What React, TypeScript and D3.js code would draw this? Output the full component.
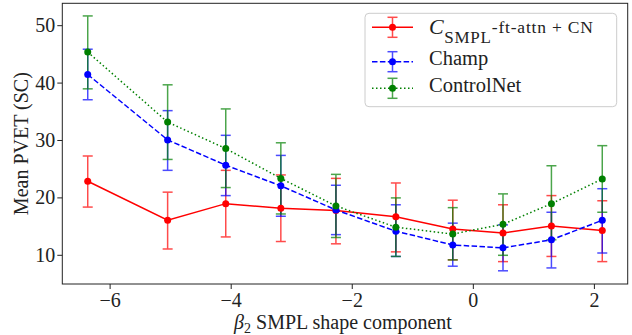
import * as d3 from 'd3';

const xs = [-6.37, -5.05, -4.09, -3.18, -2.27, -1.28, -0.34, 0.49, 1.29, 2.13];

const oursMean = [22.9, 16.1, 19.0, 18.2, 17.8, 16.7, 14.6, 13.9, 15.1, 14.3];
const oursLo = [18.4, 11.1, 13.2, 12.4, 12.0, 10.6, 9.2, 8.9, 9.8, 8.9];
const oursHi = [27.3, 21.0, 24.8, 24.0, 23.4, 22.6, 19.6, 18.8, 20.4, 19.5];

const champMean = [41.5, 30.1, 25.7, 22.1, 17.9, 14.2, 11.8, 11.3, 12.7, 16.1];
const champLo = [37.1, 24.8, 20.4, 16.8, 13.6, 9.8, 8.1, 7.3, 7.8, 10.4];
const champHi = [45.9, 35.2, 30.9, 27.4, 22.2, 18.8, 15.6, 15.3, 17.5, 21.6];

const cnMean = [45.4, 33.2, 28.6, 23.4, 18.6, 14.9, 13.7, 15.4, 19.0, 23.3];
const cnLo = [39.0, 26.7, 21.8, 17.2, 13.1, 9.8, 9.2, 10.0, 12.7, 17.5];
const cnHi = [51.7, 39.7, 35.5, 29.6, 24.1, 20.0, 18.3, 20.7, 25.6, 29.1];

const xTicks = [-6, -4, -2, 0, 2];
const yTicks = [10, 20, 30, 40, 50];

const W = 632;
const H = 335;
const M = { left: 62.3, right: 4.3, top: 3.3, bottom: 51 };
const FONT = "'Liberation Serif', 'DejaVu Serif', serif";

type Series = { key: string; color: string; dash: string; mean: number[]; lo: number[]; hi: number[] };

const series: Series[] = [
  { key: 'ours', color: '#ff0000', dash: '', mean: oursMean, lo: oursLo, hi: oursHi },
  { key: 'champ', color: '#0000ff', dash: '5.5,2.4', mean: champMean, lo: champLo, hi: champHi },
  { key: 'cn', color: '#008000', dash: '1.5,2.5', mean: cnMean, lo: cnLo, hi: cnHi },
];

export default function App() {
  const x = d3.scaleLinear().domain([-6.79, 2.55]).range([M.left, W - M.right]);
  const y = d3.scaleLinear().domain([5.0, 53.9]).range([H - M.bottom, M.top]);
  const line = d3.line<number>().x((_, i) => x(xs[i])).y((d) => y(d));
  const cap = 5;

  const legendY = [27.3, 61.7, 88.3];
  const lx0 = 372, lx1 = 413;
  const txt = { fontFamily: FONT, fill: '#222' } as const;

  return (
    <svg width={W} height={H} style={{ position: 'absolute', left: 0, top: 0, background: '#fff', fontFamily: FONT }}>
      {series.map((s) => (
        <g key={s.key} opacity={0.7} stroke={s.color} strokeWidth={1.5}>
          {xs.map((xv, i) => (
            <g key={i}>
              <line x1={x(xv)} x2={x(xv)} y1={y(s.lo[i])} y2={y(s.hi[i])} />
              <line x1={x(xv) - cap} x2={x(xv) + cap} y1={y(s.lo[i])} y2={y(s.lo[i])} />
              <line x1={x(xv) - cap} x2={x(xv) + cap} y1={y(s.hi[i])} y2={y(s.hi[i])} />
            </g>
          ))}
        </g>
      ))}
      {series.map((s) => (
        <g key={s.key + 'l'}>
          <path d={line(s.mean) ?? ''} fill="none" stroke={s.color} strokeWidth={1.5} strokeDasharray={s.dash || undefined} />
          {s.mean.map((v, i) => (
            <circle key={i} cx={x(xs[i])} cy={y(v)} r={3.5} fill={s.color} />
          ))}
        </g>
      ))}

      <rect x={M.left} y={M.top} width={W - M.left - M.right} height={H - M.top - M.bottom} fill="none" stroke="#222" strokeWidth={1} />

      {xTicks.map((t) => (
        <g key={t}>
          <line x1={x(t)} x2={x(t)} y1={H - M.bottom} y2={H - M.bottom + 5} stroke="#222" />
          <text x={x(t)} y={H - M.bottom + 23} textAnchor="middle" fontSize={20} style={txt}>
            {t < 0 ? `−${-t}` : `${t}`}
          </text>
        </g>
      ))}
      {yTicks.map((t) => (
        <g key={t}>
          <line x1={M.left - 5} x2={M.left} y1={y(t)} y2={y(t)} stroke="#222" />
          <text x={M.left - 7} y={y(t) + 6.5} textAnchor="end" fontSize={20} style={txt}>
            {t}
          </text>
        </g>
      ))}

      <text x={343} y={329} textAnchor="middle" fontSize={20} style={txt}>
        <tspan fontStyle="italic">β</tspan>
        <tspan fontSize={14} dy={4}>2</tspan>
        <tspan dy={-4}> SMPL shape component</tspan>
      </text>
      <text transform={`translate(28,${(M.top + H - M.bottom) / 2}) rotate(-90)`} textAnchor="middle" fontSize={20} style={txt}>
        Mean PVET (SC)
      </text>

      <rect x={365} y={13.3} width={251.7} height={93.4} rx={4} fill="#fff" fillOpacity={0.8} stroke="#ccc" strokeWidth={1} />
      {series.map((s, i) => {
        const cy = legendY[i];
        const cx = (lx0 + lx1) / 2;
        return (
          <g key={s.key + 'leg'}>
            <line x1={lx0} x2={lx1} y1={cy} y2={cy} stroke={s.color} strokeWidth={1.5} strokeDasharray={s.dash || undefined} />
            <g opacity={0.7} stroke={s.color} strokeWidth={1.5}>
              <line x1={cx} x2={cx} y1={cy - 10} y2={cy + 10} />
              <line x1={cx - cap} x2={cx + cap} y1={cy - 10} y2={cy - 10} />
              <line x1={cx - cap} x2={cx + cap} y1={cy + 10} y2={cy + 10} />
            </g>
            <circle cx={cx} cy={cy} r={3.5} fill={s.color} />
          </g>
        );
      })}
      <text x={429} y={33.5} style={txt}>
        <tspan fontStyle="italic" fontSize={22}>C</tspan>
        <tspan fontSize={17} dy={9.5} dx={0.5} letterSpacing={0.8}>SMPL</tspan>
        <tspan fontSize={17.5} dy={-10} letterSpacing={0.8}>-ft-attn + CN</tspan>
      </text>
      <text x={429} y={65} fontSize={20.5} style={txt}>Champ</text>
      <text x={429} y={91.5} fontSize={20.5} style={txt}>ControlNet</text>
    </svg>
  );
}
